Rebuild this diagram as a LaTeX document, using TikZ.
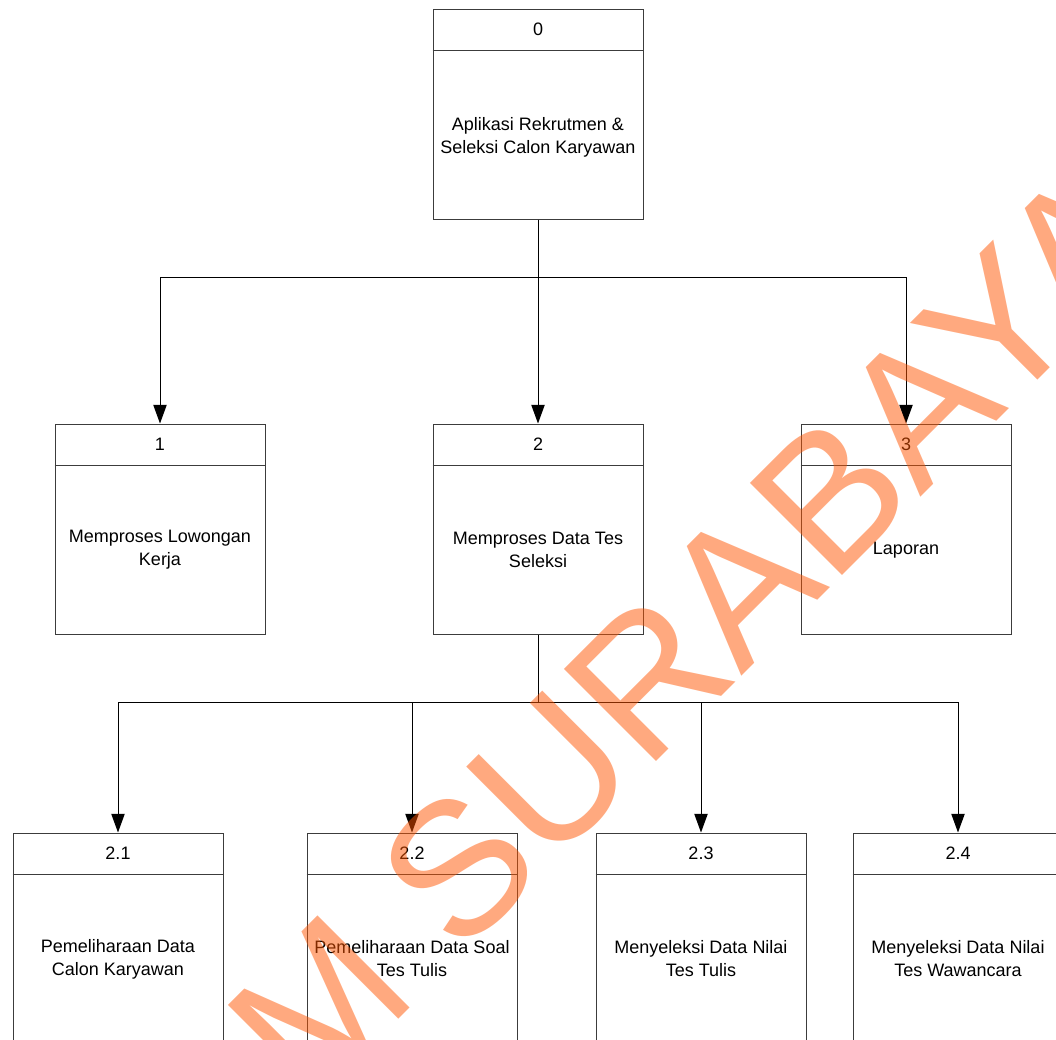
\documentclass[tikz,border=0pt]{standalone}
\usepackage{fontspec}
\setmainfont{Liberation Sans}
\usetikzlibrary{arrows.meta}
\definecolor{boxgray}{RGB}{60,60,60}
\definecolor{wmorange}{RGB}{255,85,0}
\begin{document}
\begin{tikzpicture}[x=0.75pt,y=-0.75pt,
  procbox/.style={draw=boxgray, line width=0.75pt, minimum width=157.5pt, minimum height=157.5pt, inner sep=0pt, anchor=north},
  numtext/.style={font=\fontsize{13.5}{17.25}\selectfont, inner sep=0pt},
  bodytext/.style={font=\fontsize{13.5}{17.25}\selectfont, align=center, inner sep=0pt},
  conn/.style={draw=black, line width=0.75pt},
  arr/.style={conn, -{Triangle[length=14pt,width=10pt]}},
  wmark/.style={rotate=45, text=wmorange, text opacity=0.5, inner sep=0pt, font=\fontsize{142}{142}\selectfont}]
\useasboundingbox (0,0) rectangle (1056,1039);
\clip (0,0) rectangle (1056,1039);
\fill[white] (0,0) rectangle (1056,1039);

% boxes
\node[procbox] (b0) at (538,8.5) {};
\node[procbox] (b1) at (160,423.5) {};
\node[procbox] (b2) at (538,423.5) {};
\node[procbox] (b3) at (906,423.5) {};
\node[procbox] (b21) at (118,832.5) {};
\node[procbox] (b22) at (412,832.5) {};
\node[procbox] (b23) at (701,832.5) {};
\node[procbox] (b24) at (958,832.5) {};

\foreach \b in {b0,b1,b2,b3,b21,b22,b23,b24}{
  \draw[draw=boxgray, line width=0.75pt] ([yshift=-31.5pt]\b.north west) -- ([yshift=-31.5pt]\b.north east);
}

% numbers
\node[numtext] (n0) at ([yshift=-15.75pt]b0.north) {0};
\node[numtext] (n1) at ([yshift=-15.75pt]b1.north) {1};
\node[numtext] (n2) at ([yshift=-15.75pt]b2.north) {2};
\node[numtext] (n3) at ([yshift=-15.75pt]b3.north) {3};
\node[numtext] (n21) at ([yshift=-15.75pt]b21.north) {2.1};
\node[numtext] (n22) at ([yshift=-15.75pt]b22.north) {2.2};
\node[numtext] (n23) at ([yshift=-15.75pt]b23.north) {2.3};
\node[numtext] (n24) at ([yshift=-15.75pt]b24.north) {2.4};

% body texts
\node[bodytext] (t0) at ([yshift=-17.25pt]b0.center) {Aplikasi Rekrutmen \&\\Seleksi Calon Karyawan};
\node[bodytext] (t1) at ([yshift=-15.75pt]b1.center) {Memproses Lowongan\\Kerja};
\node[bodytext] (t2) at ([yshift=-15.75pt]b2.center) {Memproses Data Tes\\Seleksi};
\node[bodytext] (t3) at ([yshift=-15.75pt]b3.center) {Laporan};
\node[bodytext] (t21) at ([yshift=-15.75pt]b21.center) {Pemeliharaan Data\\Calon Karyawan};
\node[bodytext] (t22) at ([yshift=-15.75pt]b22.center) {Pemeliharaan Data Soal\\Tes Tulis};
\node[bodytext] (t23) at ([yshift=-15.75pt]b23.center) {Menyeleksi Data Nilai\\Tes Tulis};
\node[bodytext] (t24) at ([yshift=-15.75pt]b24.center) {Menyeleksi Data Nilai\\Tes Wawancara};

% connectors
\coordinate (j0) at (538,277);
\coordinate (j2) at (538,702);
\draw[conn] (b0.south) -- (j0);
\draw[arr] (j0) -| (b1.north);
\draw[arr] (j0) -- (b2.north);
\draw[arr] (j0) -| (b3.north);
\draw[conn] (b2.south) -- (j2);
\draw[arr] (j2) -| (b21.north);
\draw[arr] (j2) -| (b22.north);
\draw[arr] (j2) -| (b23.north);
\draw[arr] (j2) -| (b24.north);

% watermark
\coordinate (wmbase) at (459,959);
\coordinate (wmbase1) at (421.5,996.5);
\node[wmark, anchor=base east] (wm1) at (wmbase1) {STIKOM};
\node[wmark, anchor=base west] (wm2) at (wmbase) {SURABAYA};
\end{tikzpicture}
\end{document}
